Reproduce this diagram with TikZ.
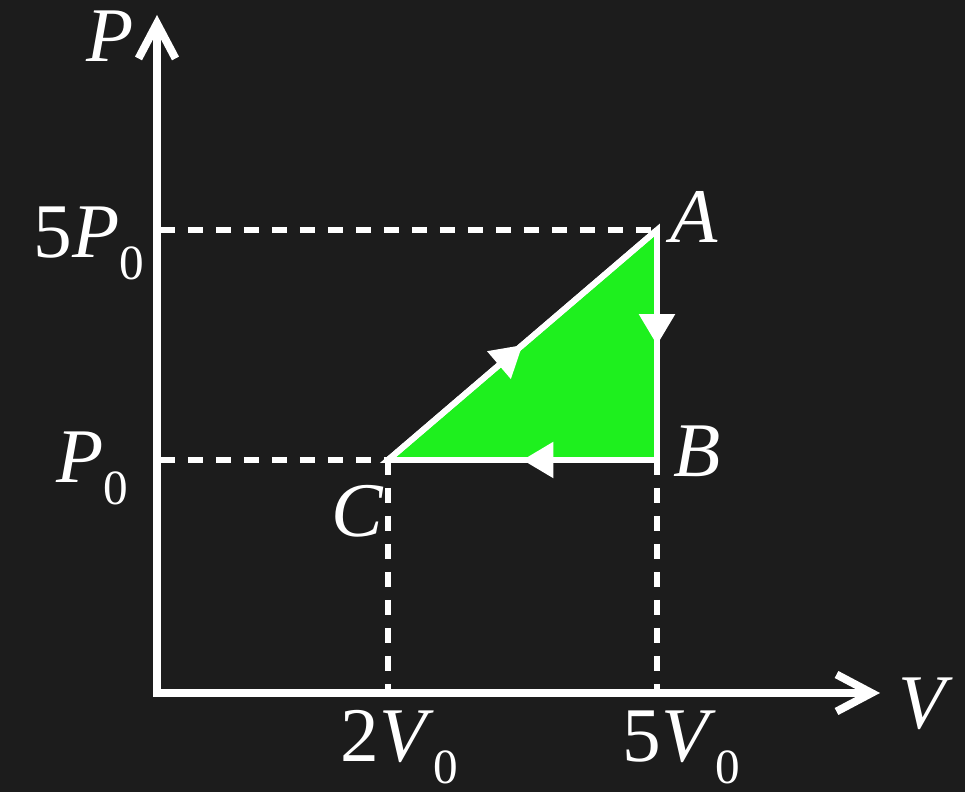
\documentclass[tikz,border=0pt]{standalone}
\usepackage{fontspec}
\setmainfont{Liberation Serif}
\usetikzlibrary{arrows.meta, decorations.markings}
\definecolor{bgdark}{RGB}{28,28,28}
\definecolor{cyclegreen}{RGB}{30,240,30}
\newcommand{\zsub}{\raisebox{-0.28em}{\fontsize{28}{30}\selectfont 0}}
\tikzstyle{axis} = [white, line width=4.5pt, {Straight Barb[length=7mm, width=7.4mm]}-{Straight Barb[length=7mm, width=7.4mm]}]
\tikzstyle{guide} = [white, line width=3.4pt, dash pattern=on 0.3cm off 0.26cm]
\tikzstyle{edge} = [white, line width=3.4pt]
\tikzstyle{midarrow} = [postaction={decorate}, decoration={markings, mark=at position 0.5 with {\arrow{Triangle[length=6.2mm, width=7mm]}}}]
\tikzstyle{lbl} = [white, inner sep=0pt, font=\fontsize{44}{50}\selectfont]

\begin{document}
\begin{tikzpicture}[x=0.02cm, y=0.02cm]
    \fill[bgdark] (0,0) rectangle (965,792);
    \useasboundingbox (0,0) rectangle (965,792);
    % points of the cycle
    \coordinate (O) at (157,99);
    \coordinate (Ptip) at (157,777);
    \coordinate (Vtip) at (880,99);
    \coordinate (A) at (657,562);
    \coordinate (B) at (657,332);
    \coordinate (C) at (388,332);
    \coordinate (Pa) at (160,562);
    \coordinate (Pc) at (160,332);
    \coordinate (Vc) at (388,99);
    \coordinate (Vb) at (657,99);
    % guide lines
    \draw[guide] (Pa) -- (A);
    \draw[guide] (Pc) -- (C);
    \draw[guide] (C) -- (Vc);
    \draw[guide] (B) -- (Vb);
    % axes
    \draw[axis] (Ptip) -- (O) -- (Vtip);
    % cycle
    \filldraw[edge, fill=cyclegreen, line join=miter] (C) -- (A) -- (B) -- cycle;
    \draw[edge, midarrow] (C) -- (A);
    \draw[edge, midarrow] (A) -- (B);
    \draw[edge, midarrow] (B) -- (C);
    % labels
    \node[lbl, anchor=base west] (lblP) at (86,730) {\textit{P}};
    \node[lbl, anchor=base west] (lblV) at (898,63) {\textit{V}};
    \node[lbl, anchor=base west] (lbl5P) at (33,534) {5\textit{P}\zsub};
    \node[lbl, anchor=base west] (lblP0) at (56,309) {\textit{P}\zsub};
    \node[lbl, anchor=base west] (lblA) at (670,549) {\textit{A}};
    \node[lbl, anchor=base west] (lblB) at (673,315) {\textit{B}};
    \node[lbl, anchor=base west] (lblC) at (331,255) {\textit{C}};
    \node[lbl, anchor=base west] (lbl2V) at (340,30) {2\textit{V}\zsub};
    \node[lbl, anchor=base west] (lbl5V) at (622,30) {5\textit{V}\zsub};
\end{tikzpicture}
\end{document}
